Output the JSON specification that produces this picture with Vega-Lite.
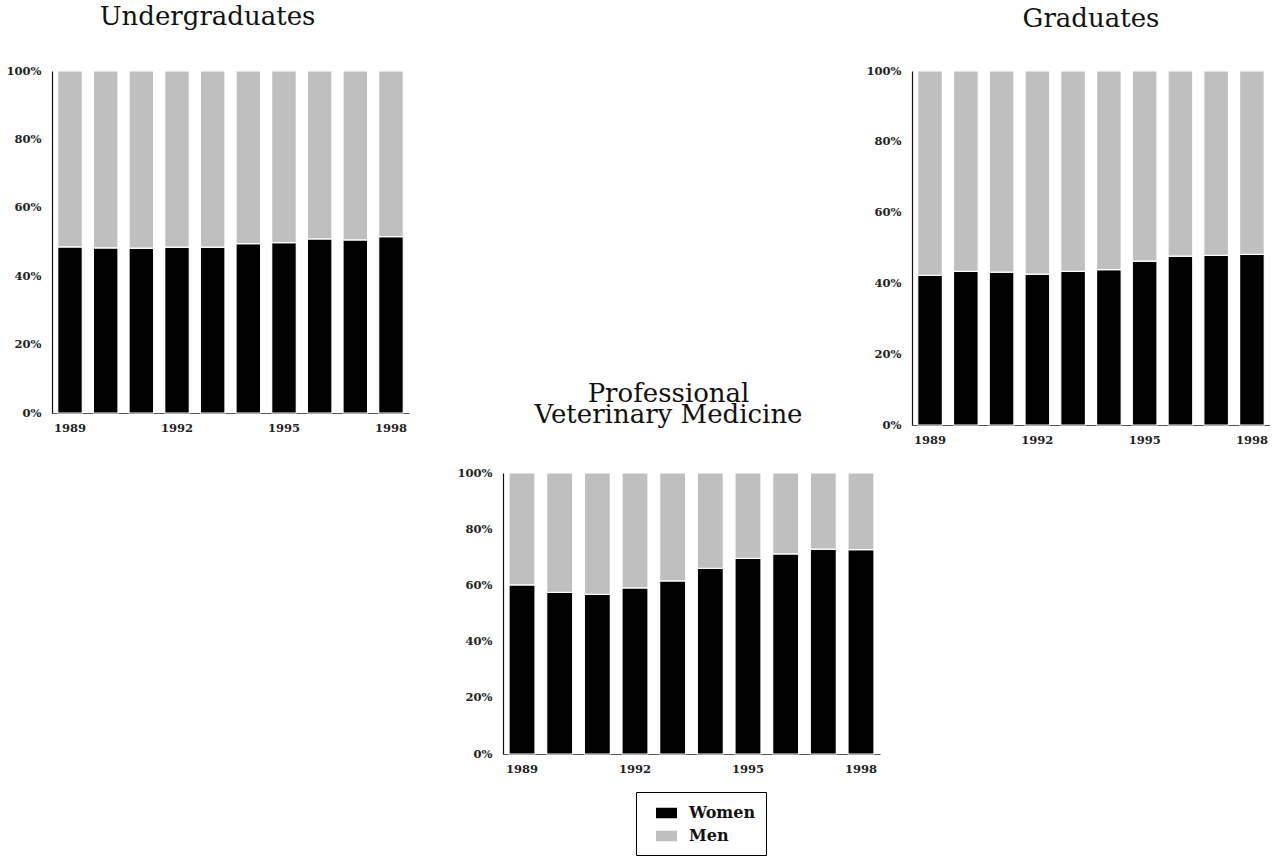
{
  "$schema": "https://vega.github.io/schema/vega-lite/v6.json",
  "padding": {"left": 6, "top": 4, "right": 0, "bottom": 0},
  "background": "white",
  "data": {"values": [
    {"panel": "Undergraduates", "year": 1989, "sex": "Women", "pct": 48.6},
    {"panel": "Undergraduates", "year": 1990, "sex": "Women", "pct": 48.3},
    {"panel": "Undergraduates", "year": 1991, "sex": "Women", "pct": 48.2},
    {"panel": "Undergraduates", "year": 1992, "sex": "Women", "pct": 48.5},
    {"panel": "Undergraduates", "year": 1993, "sex": "Women", "pct": 48.5},
    {"panel": "Undergraduates", "year": 1994, "sex": "Women", "pct": 49.5},
    {"panel": "Undergraduates", "year": 1995, "sex": "Women", "pct": 49.8},
    {"panel": "Undergraduates", "year": 1996, "sex": "Women", "pct": 50.9},
    {"panel": "Undergraduates", "year": 1997, "sex": "Women", "pct": 50.6},
    {"panel": "Undergraduates", "year": 1998, "sex": "Women", "pct": 51.6},
    {"panel": "Undergraduates", "year": 1989, "sex": "Men", "pct": 51.4},
    {"panel": "Undergraduates", "year": 1990, "sex": "Men", "pct": 51.7},
    {"panel": "Undergraduates", "year": 1991, "sex": "Men", "pct": 51.8},
    {"panel": "Undergraduates", "year": 1992, "sex": "Men", "pct": 51.5},
    {"panel": "Undergraduates", "year": 1993, "sex": "Men", "pct": 51.5},
    {"panel": "Undergraduates", "year": 1994, "sex": "Men", "pct": 50.5},
    {"panel": "Undergraduates", "year": 1995, "sex": "Men", "pct": 50.2},
    {"panel": "Undergraduates", "year": 1996, "sex": "Men", "pct": 49.1},
    {"panel": "Undergraduates", "year": 1997, "sex": "Men", "pct": 49.4},
    {"panel": "Undergraduates", "year": 1998, "sex": "Men", "pct": 48.4},
    {"panel": "Graduates", "year": 1989, "sex": "Women", "pct": 42.3},
    {"panel": "Graduates", "year": 1990, "sex": "Women", "pct": 43.4},
    {"panel": "Graduates", "year": 1991, "sex": "Women", "pct": 43.2},
    {"panel": "Graduates", "year": 1992, "sex": "Women", "pct": 42.6},
    {"panel": "Graduates", "year": 1993, "sex": "Women", "pct": 43.4},
    {"panel": "Graduates", "year": 1994, "sex": "Women", "pct": 43.9},
    {"panel": "Graduates", "year": 1995, "sex": "Women", "pct": 46.3},
    {"panel": "Graduates", "year": 1996, "sex": "Women", "pct": 47.7},
    {"panel": "Graduates", "year": 1997, "sex": "Women", "pct": 47.9},
    {"panel": "Graduates", "year": 1998, "sex": "Women", "pct": 48.2},
    {"panel": "Graduates", "year": 1989, "sex": "Men", "pct": 57.7},
    {"panel": "Graduates", "year": 1990, "sex": "Men", "pct": 56.6},
    {"panel": "Graduates", "year": 1991, "sex": "Men", "pct": 56.8},
    {"panel": "Graduates", "year": 1992, "sex": "Men", "pct": 57.4},
    {"panel": "Graduates", "year": 1993, "sex": "Men", "pct": 56.6},
    {"panel": "Graduates", "year": 1994, "sex": "Men", "pct": 56.1},
    {"panel": "Graduates", "year": 1995, "sex": "Men", "pct": 53.7},
    {"panel": "Graduates", "year": 1996, "sex": "Men", "pct": 52.3},
    {"panel": "Graduates", "year": 1997, "sex": "Men", "pct": 52.1},
    {"panel": "Graduates", "year": 1998, "sex": "Men", "pct": 51.8},
    {"panel": "Vet", "year": 1989, "sex": "Women", "pct": 60.2},
    {"panel": "Vet", "year": 1990, "sex": "Women", "pct": 57.5},
    {"panel": "Vet", "year": 1991, "sex": "Women", "pct": 56.8},
    {"panel": "Vet", "year": 1992, "sex": "Women", "pct": 59.1},
    {"panel": "Vet", "year": 1993, "sex": "Women", "pct": 61.6},
    {"panel": "Vet", "year": 1994, "sex": "Women", "pct": 66.1},
    {"panel": "Vet", "year": 1995, "sex": "Women", "pct": 69.6},
    {"panel": "Vet", "year": 1996, "sex": "Women", "pct": 71.2},
    {"panel": "Vet", "year": 1997, "sex": "Women", "pct": 72.9},
    {"panel": "Vet", "year": 1998, "sex": "Women", "pct": 72.7},
    {"panel": "Vet", "year": 1989, "sex": "Men", "pct": 39.8},
    {"panel": "Vet", "year": 1990, "sex": "Men", "pct": 42.5},
    {"panel": "Vet", "year": 1991, "sex": "Men", "pct": 43.2},
    {"panel": "Vet", "year": 1992, "sex": "Men", "pct": 40.9},
    {"panel": "Vet", "year": 1993, "sex": "Men", "pct": 38.4},
    {"panel": "Vet", "year": 1994, "sex": "Men", "pct": 33.9},
    {"panel": "Vet", "year": 1995, "sex": "Men", "pct": 30.4},
    {"panel": "Vet", "year": 1996, "sex": "Men", "pct": 28.8},
    {"panel": "Vet", "year": 1997, "sex": "Men", "pct": 27.1},
    {"panel": "Vet", "year": 1998, "sex": "Men", "pct": 27.3}
  ]},
  "config": {
    "view": {"stroke": null},
    "font": "DejaVu Serif",
    "axis": {
      "ticks": false, "tickSize": 0, "grid": false, "title": null,
      "labelFont": "DejaVu Serif", "labelFontWeight": "bold", "labelFontSize": 11.5,
      "labelColor": "#222", "domainColor": "#111", "domainWidth": 1.2
    },
    "axisY": {"labelPadding": 11},
    "axisX": {"labelPadding": 9, "labelAngle": 0, "domainColor": "#555"},
    "title": {"font": "DejaVu Serif", "fontSize": 26, "fontWeight": "normal", "color": "#111", "lineHeight": 21, "anchor": "middle"},
    "legend": {
      "title": null, "strokeColor": "black", "fillColor": "white", "padding": 10.5,
      "labelFont": "DejaVu Serif", "labelFontWeight": "bold", "labelFontSize": 16, "labelColor": "#111",
      "symbolType": "M-1,-0.5H1V0.5H-1Z", "symbolSize": 441, "symbolStrokeWidth": 0, "symbolOffset": 9.5,
      "labelOffset": 12, "rowPadding": 4
    }
  },
  "spacing": -65,
  "vconcat": [
    {
      "spacing": 457,
      "hconcat": [
        {
          "title": {"text": "Undergraduates", "frame": "bounds", "offset": 35},
          "width": 357, "height": 342,
          "transform": [{"filter": "datum.panel === 'Undergraduates'"}],
          "mark": {"type": "bar", "stroke": "white", "strokeWidth": 1.2},
          "encoding": {
            "x": {"field": "year", "type": "ordinal", "scale": {"paddingInner": 0.31, "paddingOuter": 0.16}, "axis": {"values": [1989, 1992, 1995, 1998]}},
            "y": {"field": "pct", "type": "quantitative", "stack": "normalize", "axis": {"values": [0, 0.2, 0.4, 0.6, 0.8, 1], "format": ".0%"}},
            "color": {"field": "sex", "type": "nominal", "scale": {"domain": ["Women", "Men"], "range": ["#000000", "#bfbfbf"]}, "legend": {"orient": "none", "legendX": 584, "legendY": 721, "direction": "vertical"}},
            "order": {"field": "sex", "sort": "descending"}
          }
        },
        {
          "title": {"text": "Graduates", "frame": "group", "offset": 33},
          "width": 358, "height": 354,
          "transform": [{"filter": "datum.panel === 'Graduates'"}],
          "mark": {"type": "bar", "stroke": "white", "strokeWidth": 1.2},
          "encoding": {
            "x": {"field": "year", "type": "ordinal", "scale": {"paddingInner": 0.31, "paddingOuter": 0.16}, "axis": {"values": [1989, 1992, 1995, 1998]}},
            "y": {"field": "pct", "type": "quantitative", "stack": "normalize", "axis": {"values": [0, 0.2, 0.4, 0.6, 0.8, 1], "format": ".0%"}},
            "color": {"field": "sex", "type": "nominal", "scale": {"domain": ["Women", "Men"], "range": ["#000000", "#bfbfbf"]}, "legend": {"orient": "none", "legendX": 584, "legendY": 721, "direction": "vertical"}},
            "order": {"field": "sex", "sort": "descending"}
          }
        }
      ]
    },
    {
      "spacing": 0,
      "hconcat": [
        {
          "width": 404, "height": 10,
          "view": {"stroke": "transparent"},
          "data": {"values": [{"blank": 1}]},
          "mark": {"type": "point", "opacity": 0},
          "encoding": {}
        },
        {
          "title": {"text": ["Professional", "Veterinary Medicine"], "frame": "bounds", "offset": 39},
          "width": 377, "height": 281,
          "transform": [{"filter": "datum.panel === 'Vet'"}],
          "mark": {"type": "bar", "stroke": "white", "strokeWidth": 1.2},
          "encoding": {
            "x": {"field": "year", "type": "ordinal", "scale": {"paddingInner": 0.31, "paddingOuter": 0.16}, "axis": {"values": [1989, 1992, 1995, 1998]}},
            "y": {"field": "pct", "type": "quantitative", "stack": "normalize", "axis": {"values": [0, 0.2, 0.4, 0.6, 0.8, 1], "format": ".0%"}},
            "color": {"field": "sex", "type": "nominal", "scale": {"domain": ["Women", "Men"], "range": ["#000000", "#bfbfbf"]}, "legend": {"orient": "none", "legendX": 584, "legendY": 721, "direction": "vertical"}},
            "order": {"field": "sex", "sort": "descending"}
          }
        }
      ]
    }
  ]
}
